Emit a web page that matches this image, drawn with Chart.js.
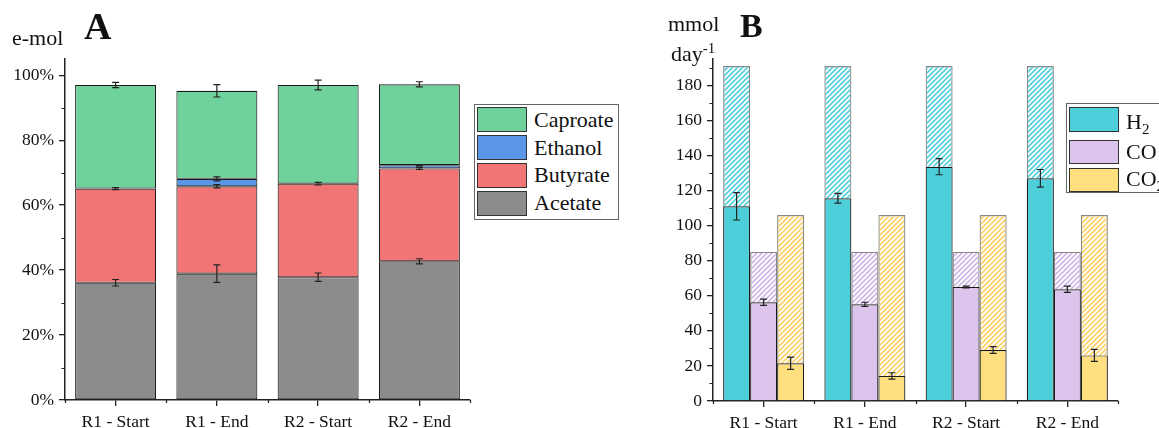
<!DOCTYPE html>
<html>
<head>
<meta charset="utf-8">
<script src="https://cdn.jsdelivr.net/npm/chart.js@4.4.0/dist/chart.umd.min.js"></script>
<style>
  html, body { margin: 0; padding: 0; background: #fff; }
  body { width: 1159px; height: 428px; position: relative; overflow: hidden; font-family: "Liberation Serif", serif; color: #111; }
  .abs { position: absolute; white-space: nowrap; line-height: 1; }
  #wrapA { position: absolute; left: 0; top: 0; width: 660px; height: 428px; }
  #wrapB { position: absolute; left: 660px; top: 0; width: 499px; height: 428px; }
  .legend { position: absolute; border: 1.5px solid #666; background: #fff; box-sizing: border-box; }
  .sw { position: absolute; width: 50px; border: 1.2px solid #333; box-sizing: border-box; }
  .lt { position: absolute; font-size: 22px; line-height: 22px; white-space: nowrap; }
  sup, sub { line-height: 0; font-size: 15px; }
</style>
</head>
<body>
<div id="wrapA"><canvas id="chartA" width="660" height="428"></canvas></div>
<div id="wrapB"><canvas id="chartB" width="499" height="428"></canvas></div>

<div class="abs" style="left:84px;top:7px;font-size:38px;font-weight:bold;">A</div>
<div class="abs" style="left:12px;top:27px;font-size:22px;line-height:22px;">e-mol</div>
<div class="abs" style="left:740px;top:9px;font-size:34px;font-weight:bold;">B</div>
<div class="abs" style="left:668px;top:13px;font-size:22px;line-height:22px;">mmol</div>
<div class="abs" style="left:671px;top:43px;font-size:22px;line-height:22px;">day<sup>-1</sup></div>

<div class="legend" style="left:474px;top:104px;width:145px;height:116px;"></div>
<div class="sw" style="left:477px;top:107px;height:25px;background:#6fd19b;"></div>
<div class="lt" style="left:534px;top:109px;">Caproate</div>
<div class="sw" style="left:477px;top:135px;height:25px;background:#5a96e8;"></div>
<div class="lt" style="left:534px;top:137px;">Ethanol</div>
<div class="sw" style="left:477px;top:163px;height:25px;background:#f27575;"></div>
<div class="lt" style="left:534px;top:164px;">Butyrate</div>
<div class="sw" style="left:477px;top:191px;height:25px;background:#8c8c8c;"></div>
<div class="lt" style="left:534px;top:192px;">Acetate</div>

<div class="legend" style="left:1066px;top:103px;width:130px;height:90px;"></div>
<div class="sw" style="left:1069px;top:107px;height:25px;background:#4ccfd9;"></div>
<div class="lt" style="left:1126px;top:111px;">H<sub>2</sub></div>
<div class="sw" style="left:1069px;top:140px;height:24px;background:#dcc4ed;"></div>
<div class="lt" style="left:1126px;top:141px;">CO</div>
<div class="sw" style="left:1069px;top:168px;height:24px;background:#ffdf7e;"></div>
<div class="lt" style="left:1126px;top:168px;">CO<sub>2</sub></div>

<script>
const categories = ['R1 - Start', 'R1 - End', 'R2 - Start', 'R2 - End'];

// panel A, e-mol %
const acetate = [36.1, 38.9, 37.8, 42.7];
const acetateErr = [1.0, 2.7, 1.3, 0.8];
const butyrate = [29.0, 26.9, 28.8, 28.6];
const butyrateErr = [0.3, 0.5, 0.4, 0.3];
const ethanol = [0, 2.3, 0, 1.0];
const ethanolErr = [0, 0.6, 0, 0.2];
const caproate = [31.9, 27.1, 30.4, 24.9];
const caproateErr = [0.8, 1.9, 1.5, 0.8];
const ticksA = [0, 20, 40, 60, 80, 100];

// panel B, mmol/day
const h2 = [111.0, 115.6, 133.6, 127.0];
const h2Err = [7.8, 2.8, 4.6, 5.0];
const co = [56.3, 55.1, 65.0, 63.7];
const coErr = [1.8, 1.2, 0.5, 1.8];
const co2 = [21.5, 14.3, 29.1, 26.0];
const co2Err = [3.5, 1.8, 1.9, 3.4];
const h2Theory = [191, 191, 191, 191];
const coTheory = [85, 85, 85, 85];
const co2Theory = [106, 106, 106, 106];
const ticksB = [0, 20, 40, 60, 80, 100, 120, 140, 160, 180];

Chart.defaults.font.family = '"Liberation Serif", serif';
Chart.defaults.color = '#111';
Chart.defaults.animation = false;

const axisCol = '#222';

// error bars drawn at top of each bar segment
const errorBars = {
    id: 'errorBars',
    afterDatasetsDraw(chart) {
        const ctx = chart.ctx;
        const y = chart.scales.y;
        chart.data.datasets.forEach((ds, i) => {
            if (!ds.errors) return;
            const meta = chart.getDatasetMeta(i);
            meta.data.forEach((bar, j) => {
                const e = ds.errors[j];
                if (!e || !ds.data[j]) return;
                const top = y.getValueForPixel(bar.y);
                const y1 = y.getPixelForValue(top + e);
                const y2 = y.getPixelForValue(top - e);
                ctx.save();
                ctx.strokeStyle = '#222';
                ctx.lineWidth = 1.2;
                ctx.beginPath();
                ctx.moveTo(bar.x, y1); ctx.lineTo(bar.x, y2);
                ctx.moveTo(bar.x - 3.5, y1); ctx.lineTo(bar.x + 3.5, y1);
                ctx.moveTo(bar.x - 3.5, y2); ctx.lineTo(bar.x + 3.5, y2);
                ctx.stroke();
                ctx.restore();
            });
        });
    }
};

// minor ticks on both axes
const minorTicks = {
    id: 'minorTicks',
    afterDraw(chart, args, opts) {
        const ctx = chart.ctx;
        const x = chart.scales.x, y = chart.scales.y;
        const area = chart.chartArea;
        ctx.save();
        ctx.strokeStyle = axisCol;
        ctx.lineWidth = 1.2;
        ctx.beginPath();
        for (let v = opts.step / 2; v < y.max; v += opts.step) {
            const py = Math.round(y.getPixelForValue(v)) + 0.5;
            ctx.moveTo(area.left, py); ctx.lineTo(area.left - 3.5, py);
        }
        for (let k = 0; k <= categories.length; k++) {
            const px = Math.round(x.getPixelForValue(k - 0.5)) + 0.5;
            ctx.moveTo(px, area.bottom); ctx.lineTo(px, area.bottom + 3);
        }
        ctx.stroke();
        ctx.restore();
    }
};

function hatch(ctx, color) {
    const c = document.createElement('canvas');
    c.width = 5; c.height = 5;
    const g = c.getContext('2d');
    g.strokeStyle = color;
    g.lineWidth = 1.6;
    g.beginPath();
    g.moveTo(-1, 6); g.lineTo(6, -1);
    g.moveTo(-3.5, 3.5); g.lineTo(3.5, -3.5);
    g.moveTo(1.5, 8.5); g.lineTo(8.5, 1.5);
    g.stroke();
    return ctx.createPattern(c, 'repeat');
}

function axes(maxY, ticks, fmt, yWidth, xHeight) {
    return {
        x: {
            stacked: true,
            border: { color: axisCol, width: 1.5 },
            grid: { offset: false, drawOnChartArea: false, drawTicks: true, tickLength: 6, color: axisCol, lineWidth: 1.3 },
            ticks: { font: { size: 17.5 }, color: '#111', padding: 6, maxRotation: 0 },
            afterFit: s => { s.height = xHeight; }
        },
        y: {
            stacked: true,
            min: 0,
            max: maxY,
            border: { color: axisCol, width: 1.5 },
            grid: { drawOnChartArea: false, drawTicks: true, tickLength: 6, color: axisCol, lineWidth: 1.3 },
            ticks: { stepSize: ticks[1] - ticks[0], includeBounds: false, font: { size: 17.5 }, color: '#111', padding: 5, callback: fmt },
            afterFit: s => { s.width = yWidth; }
        }
    };
}

const ctxA = document.getElementById('chartA').getContext('2d');
new Chart(ctxA, {
    type: 'bar',
    data: {
        labels: categories,
        datasets: [
            { label: 'Acetate', data: acetate, errors: acetateErr, backgroundColor: '#8c8c8c' },
            { label: 'Butyrate', data: butyrate, errors: butyrateErr, backgroundColor: '#f27575' },
            { label: 'Ethanol', data: ethanol, errors: ethanolErr, backgroundColor: '#5a96e8' },
            { label: 'Caproate', data: caproate, errors: caproateErr, backgroundColor: '#6fd19b' }
        ].map(d => Object.assign(d, { borderColor: '#1a1a1a', borderWidth: 1.1, borderSkipped: false, barPercentage: 0.8, categoryPercentage: 1 }))
    },
    options: {
        responsive: false,
        layout: { padding: { left: 0, top: 59, right: 190, bottom: 0 } },
        plugins: { legend: { display: false }, tooltip: { enabled: false }, minorTicks: { step: ticksA[1] - ticksA[0] } },
        scales: axes(105, ticksA, v => v + '%', 65, 28)
    },
    plugins: [errorBars, minorTicks]
});

const ctxB = document.getElementById('chartB').getContext('2d');
const rest = (t, a) => t.map((v, i) => v - a[i]);
new Chart(ctxB, {
    type: 'bar',
    data: {
        labels: categories,
        datasets: [
            { label: 'H2', stack: 'h2', data: h2, errors: h2Err, backgroundColor: '#4ccfd9', borderColor: '#1a1a1a' },
            { label: 'CO', stack: 'co', data: co, errors: coErr, backgroundColor: '#dcc4ed', borderColor: '#1a1a1a' },
            { label: 'CO2', stack: 'co2', data: co2, errors: co2Err, backgroundColor: '#ffdf7e', borderColor: '#1a1a1a' },
            { label: 'H2 theory', stack: 'h2', data: rest(h2Theory, h2), backgroundColor: hatch(ctxB, '#52d0de'), borderColor: '#888' },
            { label: 'CO theory', stack: 'co', data: rest(coTheory, co), backgroundColor: hatch(ctxB, '#cfb6e8'), borderColor: '#888' },
            { label: 'CO2 theory', stack: 'co2', data: rest(co2Theory, co2), backgroundColor: hatch(ctxB, '#ffd166'), borderColor: '#888' }
        ].map(d => Object.assign(d, { borderWidth: 1.2, borderSkipped: 'start', barPercentage: 1, categoryPercentage: 0.8 }))
    },
    options: {
        responsive: false,
        layout: { padding: { left: 0, top: 59, right: 41, bottom: 0 } },
        plugins: { legend: { display: false }, tooltip: { enabled: false }, minorTicks: { step: ticksB[1] - ticksB[0] } },
        scales: axes(195, ticksB, v => v, 53, 27)
    },
    plugins: [errorBars, minorTicks]
});
</script>
</body>
</html>
